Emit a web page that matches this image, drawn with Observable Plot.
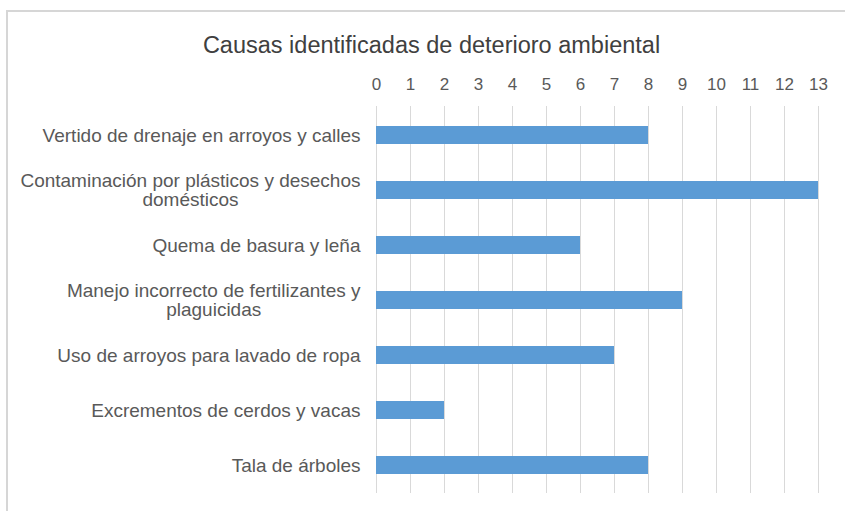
<!DOCTYPE html>
<html>
<head>
<meta charset="utf-8">
<script src="https://cdn.jsdelivr.net/npm/d3@7"></script>
<script src="https://cdn.jsdelivr.net/npm/@observablehq/plot@0.6"></script>
<style>
  html, body { margin: 0; padding: 0; background: #fff; }
  #wrap { position: relative; width: 845px; height: 511px; overflow: hidden; }
  #frame { position: absolute; left: 6px; top: 10px; width: 900px; height: 600px; border: 2px solid #d6d6d6; box-sizing: border-box; }
  #title { position: absolute; left: 0; width: 863px; top: 31px; line-height: 28px; text-align: center; font-family: "Liberation Sans", Arial, sans-serif; font-size: 23.5px; color: #404040; }
  #chart { position: absolute; left: 0; top: 0; }
</style>
</head>
<body>
<div id="wrap">
  <div id="frame"></div>
  <div id="title">Causas identificadas de deterioro ambiental</div>
  <div id="chart"></div>
</div>
<script>
const categories = [
  "Vertido de drenaje en arroyos y calles",
  "Contaminación por plásticos y desechos\ndomésticos",
  "Quema de basura y leña",
  "Manejo incorrecto de fertilizantes y\nplaguicidas",
  "Uso de arroyos para lavado de ropa",
  "Excrementos de cerdos y vacas",
  "Tala de árboles"
];
const values = [8, 13, 6, 9, 7, 2, 8];
const xTicks = [0,1,2,3,4,5,6,7,8,9,10,11,12,13];

const data = categories.map((c, i) => ({cat: c, value: values[i]}));

const LABEL_SIZE = 19;
const FONT = LABEL_SIZE + 'px "Liberation Sans", Arial, sans-serif';
const ctx = document.createElement("canvas").getContext("2d");
ctx.font = FONT;
const labelGap = 16;
const lineStep = 19;
// first line right-aligned, following lines centred under the first line
const lines = [];
categories.forEach((c) => {
  const parts = c.split("\n");
  const w0 = ctx.measureText(parts[0]).width;
  const n = parts.length;
  parts.forEach((p, j) => {
    lines.push({
      cat: c, text: p,
      anchor: j === 0 ? "end" : "middle",
      dx: j === 0 ? -labelGap : -labelGap - w0 / 2,
      dy: (j - (n - 1) / 2) * lineStep
    });
  });
});

const chart = Plot.plot({
  width: 845,
  height: 511,
  marginTop: 106,
  marginBottom: 18,
  marginLeft: 376,
  marginRight: 27,
  style: { fontFamily: '"Liberation Sans", Arial, sans-serif', fontSize: "16px", color: "#595959", background: "transparent" },
  x: { domain: [0, 13], ticks: xTicks, axis: null, label: null },
  y: { domain: categories, axis: null, paddingInner: 0.68, paddingOuter: 0.34, label: null },
  marks: [
    Plot.gridX(xTicks, { stroke: "#d9d9d9", strokeOpacity: 1, strokeWidth: 1 }),
    Plot.axisX(xTicks, { anchor: "top", label: null, tickSize: 0, tickPadding: 17, fontSize: 17, fill: "#595959" }),
    Plot.barX(data, { x: "value", y: "cat", fill: "#5B9BD5" }),
    ...lines.map(l => Plot.text([l], { x: () => 0, y: "cat", text: "text", textAnchor: l.anchor, dx: l.dx, dy: l.dy, fill: "#595959", fontSize: LABEL_SIZE }))
  ]
});
document.getElementById("chart").appendChild(chart);
</script>
</body>
</html>
